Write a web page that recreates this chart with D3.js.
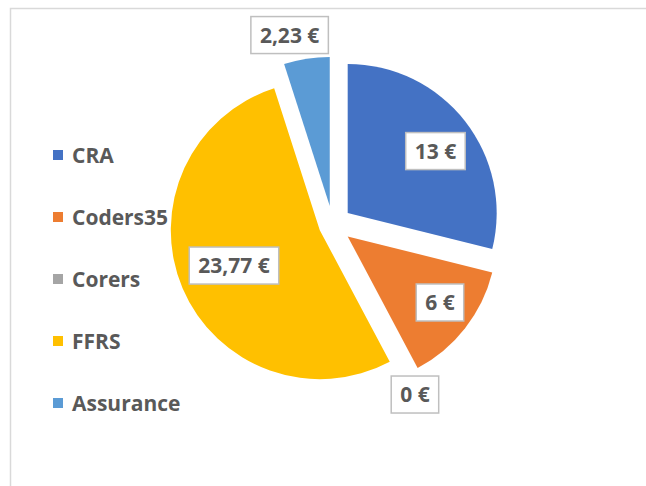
<!DOCTYPE html>
<html>
<head>
<meta charset="utf-8">
<script src="https://cdn.jsdelivr.net/npm/d3@7"></script>
<style>
body{margin:0;background:#fff;}
text{font-family:"Open Sans",sans-serif;font-weight:bold;fill:#595959;}
</style>
</head>
<body>
<div id="container"></div>
<script>
let categories = ["CRA", "Coders35", "Corers", "FFRS", "Assurance"];
let amounts = [13, 6, 0, 23.77, 2.23];
let amountLabels = ["13 €", "6 €", "0 €", "23,77 €", "2,23 €"];
let colors = ["#4472C4", "#ED7D31", "#A5A5A5", "#FFC000", "#5B9BD5"];

let width = 646, height = 486;
let cx = 332.7, cy = 224.7, radius = 149;
// how far each slice is pulled out from the centre
let explode = [19, 19, 19, 14, 19];
// label position from slice tip: distance (share of radius) and turn (degrees)
let labelDist = [0.721, 0.762, 1.139, 0.623, 1.178];
let labelTurn = [2.8, -2.4, 2.4, 0.5, -4.3];

let svg = d3.select("#container")
            .append("svg")
              .attr("width", width)
              .attr("height", height);

// chart frame (runs off the right and bottom edges)
svg.append("rect")
    .attr("x", 10.5).attr("y", 8.5)
    .attr("width", width).attr("height", height)
    .attr("fill", "none")
    .attr("stroke", "#d9d9d9")
    .attr("stroke-width", 1.5);

let color = d3.scaleOrdinal().domain(categories).range(colors);

let pie = d3.pie().sort(null).value(d => d.value);
let slices = pie(categories.map((c, i) => ({name: c, value: amounts[i], label: amountLabels[i]})));

let arc = d3.arc().innerRadius(0).outerRadius(radius);

function midAngle(d){ return (d.startAngle + d.endAngle) / 2; }
function tip(d){
  let a = midAngle(d), e = explode[d.index];
  return [cx + e * Math.sin(a), cy - e * Math.cos(a)];
}

let pieG = svg.append("g");

pieG.selectAll("path")
    .data(slices.filter(d => d.value > 0))
    .enter().append("path")
      .attr("d", arc)
      .attr("transform", d => "translate(" + tip(d)[0] + "," + tip(d)[1] + ")")
      .attr("fill", d => color(d.data.name));

// data labels in boxes
let labels = svg.append("g").selectAll("g")
    .data(slices)
    .enter().append("g")
      .attr("transform", function(d, i){
        let a = midAngle(d) + labelTurn[i] * Math.PI / 180, t = tip(d), r = labelDist[i] * radius;
        return "translate(" + (t[0] + r * Math.sin(a)) + "," + (t[1] - r * Math.cos(a)) + ")";
      });

labels.append("rect");
labels.append("text")
    .attr("text-anchor", "middle")
    .attr("dy", "0.36em")
    .style("font-size", "21px")
    .text(d => d.data.label);

labels.each(function(){
  let g = d3.select(this);
  let w = g.select("text").node().getComputedTextLength() + 18;
  g.select("rect")
    .attr("x", -w / 2).attr("y", -18.5)
    .attr("width", w).attr("height", 37)
    .attr("fill", "#fff")
    .attr("stroke", "#bfbfbf")
    .attr("stroke-width", 1.5);
});

// legend
let legend = svg.append("g").selectAll("g")
    .data(categories)
    .enter().append("g")
      .attr("transform", (d, i) => "translate(53," + (155 + i * 62) + ")");

legend.append("rect")
    .attr("x", 0).attr("y", -5)
    .attr("width", 10).attr("height", 10)
    .attr("fill", d => color(d));

legend.append("text")
    .attr("x", 19)
    .attr("dy", "0.36em")
    .style("font-size", "21px")
    .text(d => d);
</script>
</body>
</html>
